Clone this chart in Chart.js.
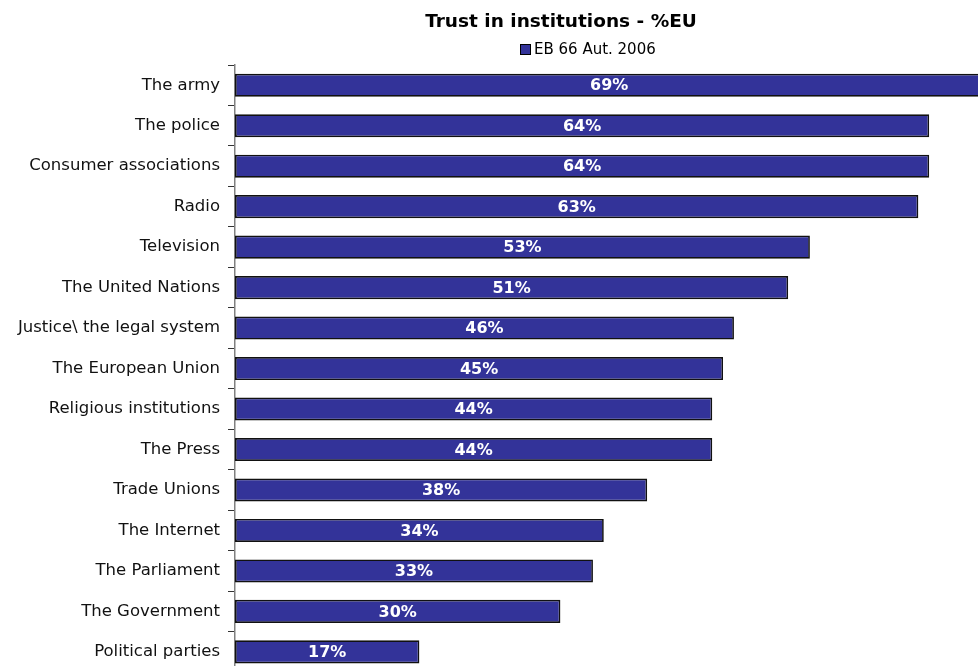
<!DOCTYPE html>
<html>
<head>
<meta charset="utf-8">
<script src="https://cdn.jsdelivr.net/npm/chart.js@4"></script>
<style>
  body { margin: 0; overflow: hidden; background: #fff; }
</style>
</head>
<body>
<canvas id="chart" width="978" height="690"></canvas>
<script>
const categories = [
  "The army", "The police", "Consumer associations", "Radio", "Television",
  "The United Nations", "Justice\\ the legal system", "The European Union",
  "Religious institutions", "The Press", "Trade Unions", "The Internet",
  "The Parliament", "The Government", "Political parties"
];
const trust = [69, 64, 64, 63, 53, 51, 46, 45, 44, 44, 38, 34, 33, 30, 17];
const seriesName = "EB 66 Aut. 2006";
const chartTitle = "Trust in institutions - %EU";

const barColor = "#333399";
const fontFamily = "'DejaVu Sans', Verdana, sans-serif";

// bar value labels, title and legend drawn by hand
const extras = {
  id: "extras",
  afterDatasetsDraw(chart) {
    const ctx = chart.ctx;
    const meta = chart.getDatasetMeta(0);
    ctx.save();
    ctx.fillStyle = "#fff";
    ctx.font = "bold 16px " + fontFamily;
    ctx.textAlign = "center";
    ctx.textBaseline = "middle";
    meta.data.forEach((bar, i) => {
      ctx.fillText(trust[i] + "%", (bar.x + bar.base) / 2, bar.y + 1);
    });
    ctx.restore();
  },
  afterDraw(chart) {
    const ctx = chart.ctx;
    ctx.save();
    ctx.fillStyle = "#000";
    ctx.textBaseline = "middle";
    ctx.textAlign = "center";
    ctx.font = "bold 18.5px " + fontFamily;
    ctx.fillText(chartTitle, 561, 22);
    // legend
    ctx.fillStyle = barColor;
    ctx.fillRect(520, 44, 10, 10);
    ctx.strokeStyle = "#000";
    ctx.lineWidth = 1;
    ctx.strokeRect(520.5, 44.5, 10, 10);
    ctx.fillStyle = "#000";
    ctx.textAlign = "left";
    ctx.font = "15px " + fontFamily;
    ctx.fillText(seriesName, 534, 50);
    ctx.restore();
  }
};

new Chart(document.getElementById("chart"), {
  type: "bar",
  data: {
    labels: categories,
    datasets: [{
      label: seriesName,
      data: trust,
      backgroundColor: barColor,
      borderColor: "#111",
      borderWidth: 1.7,
      borderSkipped: false,
      categoryPercentage: 1,
      barPercentage: 0.57
    }]
  },
  options: {
    indexAxis: "y",
    responsive: false,
    animation: false,
    layout: { padding: { top: 65, bottom: 8, right: 0 } },
    plugins: {
      legend: { display: false },
      title: { display: false },
      tooltip: { enabled: false }
    },
    scales: {
      x: {
        display: false,
        min: 0,
        max: 68.5
      },
      y: {
        afterFit(scale) { scale.width = 235; },
        border: { display: true, color: "#808080", width: 1.5 },
        grid: {
          offset: true,
          drawOnChartArea: false,
          tickLength: 7,
          color: "#333"
        },
        ticks: {
          color: "#111",
          padding: 8,
          font: { family: fontFamily, size: 16.5 }
        }
      }
    }
  },
  plugins: [extras]
});
</script>
</body>
</html>
